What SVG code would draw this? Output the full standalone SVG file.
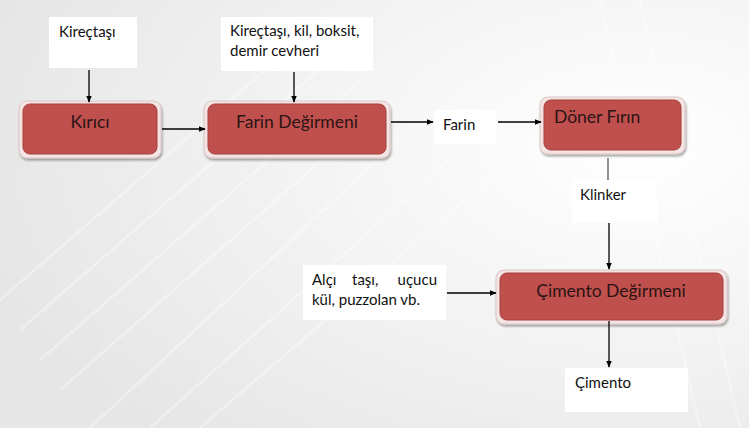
<svg xmlns="http://www.w3.org/2000/svg" width="749" height="428" viewBox="0 0 749 428">
<defs>
<radialGradient id="bg" cx="0.85" cy="0.35" r="0.9">
<stop offset="0" stop-color="#ffffff"/>
<stop offset="0.5" stop-color="#f3f3f3"/>
<stop offset="1" stop-color="#e6e6e6"/>
</radialGradient>
<marker id="ah" viewBox="0 0 10 10" refX="9" refY="5" markerWidth="7" markerHeight="7" markerUnits="userSpaceOnUse" orient="auto">
<path d="M0,1 L10,5 L0,9 z" fill="#000"/>
</marker>
<filter id="sh" x="-10%" y="-10%" width="120%" height="130%">
<feDropShadow dx="1" dy="2" stdDeviation="1.2" flood-color="#000" flood-opacity="0.35"/>
</filter>
</defs>
<style>
.lbl{fill:#fff;stroke:none}
.t{font-family:Lato,"Liberation Sans",sans-serif;font-size:15px;fill:#111}
.rt{font-family:Lato,"Liberation Sans",sans-serif;font-size:17.5px;fill:#2b1414}
.outer{fill:#f4e4e3;stroke:#d9c6c5;stroke-width:1;filter:url(#sh)}
.red{fill:#c0504d;stroke:#a33e3b;stroke-width:1}
.c{stroke:#000;stroke-width:1.3;fill:none;marker-end:url(#ah)}
</style>
<rect width="749" height="428" fill="url(#bg)"/>
<g opacity="0.35" stroke="#ffffff" stroke-width="2.5" fill="none">
<path d="M0,300 L300,40"/><path d="M20,330 L330,60"/><path d="M40,360 L360,80"/><path d="M60,390 L390,100"/><path d="M90,428 L420,120"/>
<path d="M150,428 L460,150"/><path d="M200,428 L500,170"/><path d="M600,0 L700,428"/><path d="M640,0 L740,428"/>
</g>

<g id="n-kirectasi"><rect class="lbl" x="49" y="17" width="88" height="51"/><text class="t" x="59" y="37">Kireçtaşı</text></g>
<g id="n-kirici"><rect class="outer" x="19" y="101" width="142" height="57" rx="8"/><rect class="red" x="23" y="104" width="134" height="50" rx="7"/><text class="rt" x="90" y="128" text-anchor="middle">Kırıcı</text></g>
<g id="n-hammadde"><rect class="lbl" x="221" y="17" width="152" height="54"/><text class="t" x="230" y="36">Kireçtaşı, kil, boksit,</text><text class="t" x="230" y="56">demir cevheri</text></g>
<g id="n-farin-deg"><rect class="outer" x="204" y="101" width="186" height="57" rx="8"/><rect class="red" x="208" y="104" width="178" height="50" rx="7"/><text class="rt" x="297" y="128" text-anchor="middle">Farin Değirmeni</text></g>
<g id="n-farin"><rect class="lbl" x="434" y="110" width="62" height="34"/><text class="t" x="443" y="130">Farin</text></g>
<g id="n-doner"><rect class="outer" x="540" y="97" width="145" height="57" rx="8"/><rect class="red" x="544" y="100" width="137" height="50" rx="7"/><text class="rt" x="554" y="123">Döner Fırın</text></g>
<g id="n-klinker"><rect class="lbl" x="572" y="180" width="85" height="43"/><text class="t" x="580" y="200">Klinker</text></g>
<g id="n-katki"><rect class="lbl" x="303" y="265" width="143" height="55"/><text class="t" x="312" y="285">Alçı</text><text class="t" x="352" y="285">taşı,</text><text class="t" x="437" y="285" text-anchor="end">uçucu</text><text class="t" x="312" y="305">kül, puzzolan vb.</text></g>
<g id="n-cimento-deg"><rect class="outer" x="496" y="270" width="231" height="54" rx="8"/><rect class="red" x="500" y="273" width="223" height="47" rx="7"/><text class="rt" x="611" y="297" text-anchor="middle">Çimento Değirmeni</text></g>
<g id="n-cimento"><rect class="lbl" x="565" y="368" width="123" height="44"/><text class="t" x="575" y="388">Çimento</text></g>

<g id="connectors">
<line class="c" x1="89" y1="70" x2="89" y2="102"/>
<line class="c" x1="162" y1="129" x2="205" y2="129"/>
<line class="c" x1="294" y1="72" x2="294" y2="102"/>
<line class="c" x1="391" y1="122" x2="433" y2="122"/>
<line class="c" x1="498" y1="122" x2="541" y2="122"/>
<line x1="608" y1="158" x2="608" y2="180" stroke="#555" stroke-width="1.3"/>
<line class="c" x1="609" y1="223" x2="609" y2="269"/>
<line class="c" x1="447" y1="293" x2="496" y2="293"/>
<line class="c" x1="609" y1="321" x2="609" y2="367"/>
</g>
</svg>
